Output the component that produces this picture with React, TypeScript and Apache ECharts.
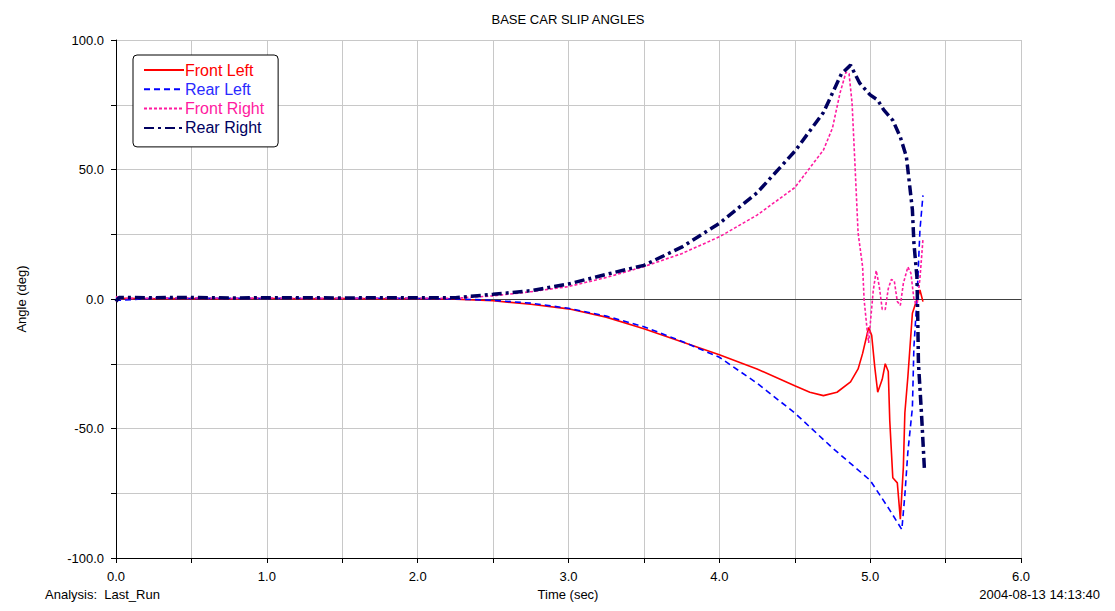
import React, { useEffect, useRef } from "react";
import * as echarts from "echarts";

const titleText = "BASE CAR SLIP ANGLES";
const xAxisName = "Time (sec)";
const yAxisName = "Angle (deg)";
const analysisText = "Analysis:  Last_Run";
const dateText = "2004-08-13 14:13:40";
const seriesNames = ["Front Left", "Rear Left", "Front Right", "Rear Right"];

const frontLeft: [number, number][] = [
  [0, -1.0], [0.02, 0.3], [0.25, 0.1], [0.5, 0.2], [0.75, 0.1], [1.0, 0.2], [1.25, 0.1], [1.5, 0.2],
  [1.75, 0.1], [2.0, 0.2], [2.25, -0.1], [2.5, -0.7], [2.75, -2.0], [3.0, -3.8], [3.25, -7.0],
  [3.5, -11.5], [3.75, -16.5], [4.0, -21.5], [4.25, -27.0], [4.5, -33.5], [4.6, -36.0], [4.69, -37.3],
  [4.78, -36.0], [4.87, -32.0], [4.92, -27.0], [4.95, -21.0], [4.99, -11.0], [5.01, -14.0], [5.03, -26.0],
  [5.05, -36.0], [5.08, -31.0], [5.1, -25.0], [5.12, -28.0], [5.13, -47.0], [5.15, -69.0], [5.18, -71.0],
  [5.2, -85.0], [5.22, -65.0], [5.23, -44.0], [5.25, -30.0], [5.28, -5.5], [5.33, 3.5], [5.35, -1.0],
];

const rearLeft: [number, number][] = [
  [0, 0.5], [0.02, -0.5], [0.25, 0.3], [0.5, 0.2], [0.75, 0.3], [1.0, 0.2], [1.25, 0.3], [1.5, 0.2],
  [1.75, 0.3], [2.0, 0.2], [2.25, 0.0], [2.5, -0.5], [2.75, -1.6], [3.0, -3.6], [3.25, -6.6],
  [3.5, -10.7], [3.75, -16.3], [4.0, -22.5], [4.25, -32.5], [4.5, -44.0], [4.75, -57.5], [5.0, -70.0],
  [5.13, -81.5], [5.21, -89.0], [5.23, -75.7], [5.25, -59.0], [5.28, -42.0], [5.29, -18.5], [5.31, -0.4],
  [5.33, 26.6], [5.35, 40.0],
];

const frontRight: [number, number][] = [
  [0, 1.0], [0.02, 0.2], [0.25, 0.3], [0.5, 0.4], [0.75, 0.2], [1.0, 0.4], [1.25, 0.2], [1.5, 0.3],
  [1.75, 0.3], [2.0, 0.3], [2.25, 0.3], [2.5, 1.2], [2.75, 2.8], [3.0, 4.8], [3.25, 8.3], [3.5, 12.5],
  [3.75, 17.5], [4.0, 24.0], [4.25, 32.4], [4.5, 43.0], [4.69, 57.5], [4.75, 66.0], [4.8, 79.5],
  [4.84, 87.6], [4.86, 87.0], [4.88, 75.7], [4.9, 51.0], [4.92, 25.5], [4.95, 12.4], [4.96, -0.4],
  [4.98, -12.0], [4.99, -17.0], [5.0, -10.0], [5.02, 3.0], [5.04, 11.0], [5.06, 5.0], [5.08, -4.0],
  [5.1, -4.0], [5.12, 4.0], [5.14, 7.5], [5.16, 7.0], [5.18, -1.0], [5.2, -2.5], [5.22, 6.0],
  [5.25, 12.4], [5.27, 10.0], [5.29, 0.0], [5.31, -3.0], [5.33, 8.0], [5.35, 23.0],
];

const rearRight: [number, number][] = [
  [0, -1.0], [0.02, 0.6], [0.25, 0.5], [0.5, 0.6], [0.75, 0.4], [1.0, 0.5], [1.25, 0.5], [1.5, 0.4],
  [1.75, 0.5], [2.0, 0.5], [2.25, 0.5], [2.5, 1.8], [2.75, 3.2], [3.0, 5.8], [3.25, 9.5], [3.5, 13.0],
  [3.75, 20.0], [4.0, 29.2], [4.25, 41.0], [4.5, 57.0], [4.69, 72.0], [4.75, 79.5], [4.81, 87.0],
  [4.87, 90.3], [4.93, 83.4], [5.0, 78.8], [5.05, 76.8], [5.09, 73.0], [5.15, 69.0], [5.2, 62.5],
  [5.24, 55.0], [5.26, 44.8], [5.28, 34.4], [5.29, 21.6], [5.31, 8.5], [5.315, -5.4], [5.32, -24.7],
  [5.34, -44.0], [5.36, -66.0],
];

const FONT = "'Liberation Sans', Arial, sans-serif";

export default function App() {
  const ref = useRef<HTMLDivElement>(null);
  useEffect(() => {
    if (!ref.current) return;
    const chart = echarts.init(ref.current, undefined, { renderer: "svg" });
    const colors = ["#ff0000", "#0000ff", "#ff1aa0", "#000060"];
    const textColors = ["#ff0000", "#2a2aff", "#ff1aa0", "#000060"];
    const styles: any[] = [
      { width: 1.6, type: "solid" },
      { width: 1.6, type: [6, 4] },
      { width: 1.6, type: [3, 2] },
      { width: 3.5, type: [10, 4, 3, 4] },
    ];
    const datas = [frontLeft, rearLeft, frontRight, rearRight];
    chart.setOption({
      animation: false,
      backgroundColor: "#ffffff",
      textStyle: { fontFamily: FONT },
      grid: { left: 116, right: 94, top: 40, bottom: 53, containLabel: false },
      legend: {
        orient: "vertical",
        left: 133,
        top: 55,
        padding: [7, 14, 11, 10],
        itemGap: 3.3,
        itemWidth: 40,
        itemHeight: 16,
        backgroundColor: "#ffffff",
        borderColor: "#000000",
        borderWidth: 1,
        borderRadius: 4,
        itemStyle: { opacity: 0 },
        textStyle: { fontSize: 16, fontFamily: FONT, padding: [0, 0, 0, -4] },
        data: seriesNames.map((n, i) => ({ name: n, textStyle: { color: textColors[i] } })),
      },
      xAxis: [
        {
          type: "value",
          min: 0,
          max: 6,
          interval: 0.5,
          axisLine: { onZero: false, lineStyle: { color: "#000000", width: 1 } },
          axisTick: { show: true, inside: false, length: 5, lineStyle: { color: "#000000" } },
          axisLabel: {
            margin: 12,
            fontSize: 13,
            color: "#000000",
            fontFamily: FONT,
            formatter: (v: number) => (Math.abs(v - Math.round(v)) < 1e-6 ? v.toFixed(1) : ""),
          },
          splitLine: { show: true, lineStyle: { color: "#c8c8c8", width: 1 } },
        },
        {
          type: "value",
          position: "top",
          min: 0,
          max: 6,
          interval: 0.5,
          axisLine: { show: true, lineStyle: { color: "#303030", width: 1 } },
          axisTick: { show: false },
          axisLabel: { show: false },
          splitLine: { show: false },
        },
      ],
      yAxis: {
        type: "value",
        min: -100,
        max: 100,
        interval: 25,
        name: yAxisName,
        nameLocation: "middle",
        nameRotate: 90,
        nameGap: 88,
        nameTextStyle: { fontSize: 13, color: "#000000", fontFamily: FONT },
        axisLine: { show: true, onZero: false, lineStyle: { color: "#000000", width: 1 } },
        axisTick: { show: true, inside: false, length: 5, lineStyle: { color: "#000000" } },
        axisLabel: {
          margin: 12,
          fontSize: 13,
          color: "#000000",
          fontFamily: FONT,
          formatter: (v: number) => (v % 50 === 0 ? v.toFixed(1) : ""),
        },
        splitLine: { show: true, lineStyle: { color: "#c8c8c8", width: 1 } },
      },
      series: seriesNames.map((n, i) => ({
        name: n,
        type: "line",
        data: datas[i],
        showSymbol: false,
        symbol: "none",
        color: colors[i],
        lineStyle: { color: colors[i], ...styles[i] },
        z: 2 + i,
        ...(i === 0
          ? {
              markLine: {
                silent: true,
                symbol: "none",
                label: { show: false },
                lineStyle: { color: "#404040", width: 1, type: "solid" },
                data: [{ yAxis: 0 }],
                z: 1,
              },
            }
          : {}),
      })),
      graphic: [
        {
          type: "text",
          x: 568,
          y: 13,
          style: { text: titleText, fontSize: 13, fill: "#000000", textAlign: "center", fontFamily: FONT },
        },
        {
          type: "text",
          x: 45,
          y: 588,
          style: { text: analysisText, fontSize: 13, fill: "#000000", fontFamily: FONT },
        },
        {
          type: "text",
          x: 568,
          y: 588,
          style: { text: xAxisName, fontSize: 13, fill: "#000000", textAlign: "center", fontFamily: FONT },
        },
        {
          type: "text",
          x: 1100,
          y: 588,
          style: { text: dateText, fontSize: 13, fill: "#000000", textAlign: "right", fontFamily: FONT },
        },
      ],
    });
    return () => chart.dispose();
  }, []);
  return (
    <div
      ref={ref}
      style={{ position: "absolute", left: 0, top: 0, width: 1115, height: 611 }}
    />
  );
}
